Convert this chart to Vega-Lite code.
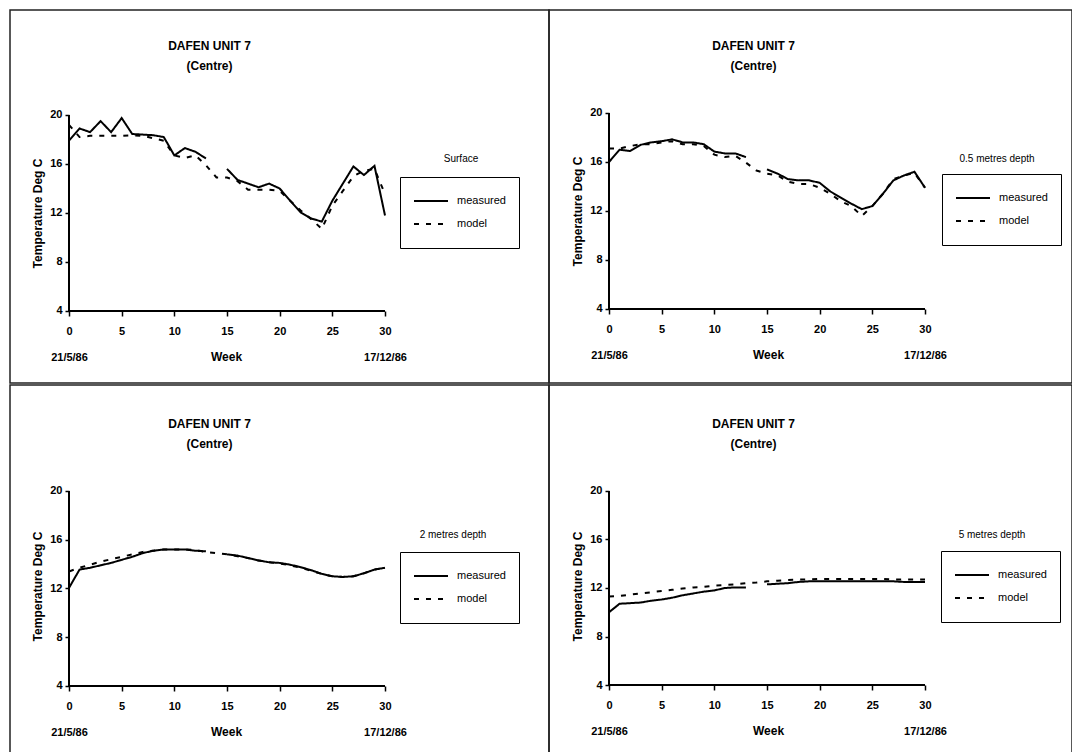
{
  "$schema": "https://vega.github.io/schema/vega-lite/v6.json",
  "padding": {"left": 9, "top": 9, "right": 1, "bottom": 0},
  "background": "white",
  "config": {
    "font": "Liberation Sans",
    "view": {"stroke": "#222", "strokeWidth": 1.5},
    "axis": {"grid": false, "domain": false, "tickColor": "black", "tickWidth": 1.5, "labelColor": "black", "labelFont": "Liberation Sans", "labelFontWeight": "bold", "labelFontSize": 11, "titleColor": "black", "titleFont": "Liberation Sans", "titleFontWeight": "bold", "titleFontSize": 12, "labelOverlap": false, "labelFlush": false},
    "legend": {"orient": "none", "title": null, "strokeColor": "black", "fillColor": "white", "padding": 13, "clipHeight": 22, "rowPadding": 1, "symbolType": "stroke", "symbolSize": 1156, "symbolStrokeWidth": 2, "symbolStrokeColor": "black", "labelFontSize": 11, "labelColor": "black", "labelOffset": 8, "labelFont": "Liberation Sans"},
    "title": {"font": "Liberation Sans", "fontSize": 12, "fontWeight": "bold", "color": "black", "lineHeight": 20, "anchor": "middle", "frame": "group"}
  },
  "datasets": {
    "surface": [
      {"w": 0, "measured": 17.9, "model": 19.2},
      {"w": 1, "measured": 18.9, "model": 18.2},
      {"w": 2, "measured": 18.6, "model": 18.3},
      {"w": 3, "measured": 19.5, "model": 18.3},
      {"w": 4, "measured": 18.6, "model": 18.3},
      {"w": 5, "measured": 19.75, "model": 18.3},
      {"w": 6, "measured": 18.45, "model": 18.35},
      {"w": 7, "measured": 18.4, "model": 18.3},
      {"w": 8, "measured": 18.35, "model": 18.1},
      {"w": 9, "measured": 18.2, "model": 17.9},
      {"w": 10, "measured": 16.7, "model": 16.7},
      {"w": 11, "measured": 17.3, "model": 16.5},
      {"w": 12, "measured": 17.0, "model": 16.7},
      {"w": 13, "measured": 16.45, "model": 15.9},
      {"w": 14, "measured": null, "model": 14.9},
      {"w": 15, "measured": 15.6, "model": 14.9},
      {"w": 16, "measured": 14.7, "model": 14.6},
      {"w": 17, "measured": 14.4, "model": 13.9},
      {"w": 18, "measured": 14.1, "model": 13.9},
      {"w": 19, "measured": 14.4, "model": 13.9},
      {"w": 20, "measured": 14.0, "model": 13.8},
      {"w": 21, "measured": 13.0, "model": 13.0},
      {"w": 22, "measured": 12.05, "model": 12.2},
      {"w": 23, "measured": 11.55, "model": 11.5},
      {"w": 24, "measured": 11.3, "model": 10.7},
      {"w": 25, "measured": 13.0, "model": 12.6},
      {"w": 26, "measured": 14.4, "model": 13.8},
      {"w": 27, "measured": 15.8, "model": 15.0},
      {"w": 28, "measured": 15.1, "model": 15.45},
      {"w": 29, "measured": 15.85, "model": 15.6},
      {"w": 30, "measured": 11.8, "model": 13.55}
    ],
    "d05": [
      {"w": 0, "measured": 16.0, "model": 17.1},
      {"w": 1, "measured": 17.0, "model": 17.1},
      {"w": 2, "measured": 16.9, "model": 17.3},
      {"w": 3, "measured": 17.4, "model": 17.45},
      {"w": 4, "measured": 17.6, "model": 17.45},
      {"w": 5, "measured": 17.7, "model": 17.6},
      {"w": 6, "measured": 17.85, "model": 17.7},
      {"w": 7, "measured": 17.6, "model": 17.45},
      {"w": 8, "measured": 17.6, "model": 17.45},
      {"w": 9, "measured": 17.45, "model": 17.3},
      {"w": 10, "measured": 16.85, "model": 16.6},
      {"w": 11, "measured": 16.7, "model": 16.4},
      {"w": 12, "measured": 16.7, "model": 16.5},
      {"w": 13, "measured": 16.4, "model": 15.95},
      {"w": 14, "measured": null, "model": 15.3},
      {"w": 15, "measured": 15.4, "model": 15.05},
      {"w": 16, "measured": 15.05, "model": 14.9},
      {"w": 17, "measured": 14.6, "model": 14.4},
      {"w": 18, "measured": 14.5, "model": 14.2},
      {"w": 19, "measured": 14.5, "model": 14.2},
      {"w": 20, "measured": 14.3, "model": 13.9},
      {"w": 21, "measured": 13.6, "model": 13.4},
      {"w": 22, "measured": 13.1, "model": 12.8},
      {"w": 23, "measured": 12.6, "model": 12.4},
      {"w": 24, "measured": 12.15, "model": 11.6},
      {"w": 25, "measured": 12.4, "model": 12.4},
      {"w": 26, "measured": 13.4, "model": 13.4},
      {"w": 27, "measured": 14.5, "model": 14.6},
      {"w": 28, "measured": 14.9, "model": 14.9},
      {"w": 29, "measured": 15.2, "model": 15.1},
      {"w": 30, "measured": 13.9, "model": 13.9}
    ],
    "d2": [
      {"w": 0, "measured": 12.05, "model": 13.4},
      {"w": 1, "measured": 13.55, "model": 13.7},
      {"w": 2, "measured": 13.7, "model": 13.95},
      {"w": 3, "measured": 13.9, "model": 14.2},
      {"w": 4, "measured": 14.1, "model": 14.4},
      {"w": 5, "measured": 14.35, "model": 14.6},
      {"w": 6, "measured": 14.6, "model": 14.8},
      {"w": 7, "measured": 14.9, "model": 15.0},
      {"w": 8, "measured": 15.1, "model": 15.1},
      {"w": 9, "measured": 15.2, "model": 15.2},
      {"w": 10, "measured": 15.2, "model": 15.2},
      {"w": 11, "measured": 15.2, "model": 15.2},
      {"w": 12, "measured": 15.1, "model": 15.15},
      {"w": 13, "measured": 15.05, "model": 15.0},
      {"w": 14, "measured": null, "model": 14.9},
      {"w": 15, "measured": 14.8, "model": 14.8},
      {"w": 16, "measured": 14.7, "model": 14.65},
      {"w": 17, "measured": 14.5, "model": 14.5},
      {"w": 18, "measured": 14.3, "model": 14.3},
      {"w": 19, "measured": 14.15, "model": 14.15},
      {"w": 20, "measured": 14.1, "model": 14.05},
      {"w": 21, "measured": 13.95, "model": 13.9},
      {"w": 22, "measured": 13.75, "model": 13.7},
      {"w": 23, "measured": 13.5, "model": 13.45},
      {"w": 24, "measured": 13.2, "model": 13.2},
      {"w": 25, "measured": 13.0, "model": 13.0},
      {"w": 26, "measured": 12.95, "model": 12.95},
      {"w": 27, "measured": 13.0, "model": 13.0},
      {"w": 28, "measured": 13.25, "model": 13.25},
      {"w": 29, "measured": 13.55, "model": 13.55},
      {"w": 30, "measured": 13.7, "model": 13.7}
    ],
    "d5": [
      {"w": 0, "measured": 10.0, "model": 11.3},
      {"w": 1, "measured": 10.7, "model": 11.35},
      {"w": 2, "measured": 10.75, "model": 11.45},
      {"w": 3, "measured": 10.8, "model": 11.55},
      {"w": 4, "measured": 10.95, "model": 11.65},
      {"w": 5, "measured": 11.05, "model": 11.75},
      {"w": 6, "measured": 11.2, "model": 11.85},
      {"w": 7, "measured": 11.4, "model": 11.95},
      {"w": 8, "measured": 11.55, "model": 12.05},
      {"w": 9, "measured": 11.7, "model": 12.1},
      {"w": 10, "measured": 11.8, "model": 12.2},
      {"w": 11, "measured": 12.0, "model": 12.25},
      {"w": 12, "measured": 12.05, "model": 12.3},
      {"w": 13, "measured": 12.05, "model": 12.4},
      {"w": 14, "measured": null, "model": 12.45},
      {"w": 15, "measured": 12.3, "model": 12.55},
      {"w": 16, "measured": 12.35, "model": 12.6},
      {"w": 17, "measured": 12.4, "model": 12.65},
      {"w": 18, "measured": 12.5, "model": 12.7},
      {"w": 19, "measured": 12.55, "model": 12.7},
      {"w": 20, "measured": 12.55, "model": 12.75},
      {"w": 21, "measured": 12.55, "model": 12.75},
      {"w": 22, "measured": 12.55, "model": 12.75},
      {"w": 23, "measured": 12.55, "model": 12.75},
      {"w": 24, "measured": 12.55, "model": 12.75},
      {"w": 25, "measured": 12.55, "model": 12.75},
      {"w": 26, "measured": 12.55, "model": 12.75},
      {"w": 27, "measured": 12.55, "model": 12.7},
      {"w": 28, "measured": 12.5, "model": 12.7},
      {"w": 29, "measured": 12.5, "model": 12.7},
      {"w": 30, "measured": 12.5, "model": 12.7}
    ]
  },
  "spacing": 0,
  "resolve": {"scale": {"x": "independent", "y": "independent", "strokeDash": "independent"}, "legend": {"strokeDash": "independent"}},
  "vconcat": [
    {
      "hconcat": [
        {
          "width": 539, "height": 373,
          "title": {"text": ["DAFEN UNIT 7", "(Centre)"], "dx": -70, "offset": -63},
          "layer": [
            {
              "data": {"name": "surface"},
              "transform": [{"fold": ["measured", "model"], "as": ["series", "temp"]}],
              "mark": {"type": "line", "color": "black", "strokeWidth": 2},
              "encoding": {
                "x": {"field": "w", "type": "quantitative", "scale": {"domain": [-5.601, 45.57], "nice": false, "zero": false},
                  "axis": {"values": [0, 5, 10, 15, 20, 25, 30], "offset": -72, "tickSize": 5, "labelPadding": 9, "labelLineHeight": 26,
                    "labelExpr": "datum.value == 0 ? ['0', '21/5/86'] : datum.value == 30 ? ['30', '17/12/86'] : datum.label",
                    "title": "Week", "titleX": 216, "titleY": 45, "titleBaseline": "middle", "titleAlign": "center"}},
                "y": {"field": "temp", "type": "quantitative", "scale": {"domain": [-1.878, 28.571], "nice": false, "zero": false},
                  "axis": {"values": [4, 8, 12, 16, 20], "offset": -59, "tickSize": 4, "labelPadding": 3,
                    "title": "Temperature Deg C", "titleX": -32, "titleY": 203, "titleAngle": 270, "titleAlign": "center", "titleBaseline": "middle"}},
                "strokeDash": {"field": "series", "type": "nominal", "scale": {"domain": ["measured", "model"], "range": [[1, 0], [5, 7]]},
                  "legend": {"legendX": 390, "legendY": 167}}
              }
            },
            {"data": {"values": [{}]}, "mark": {"type": "rule", "color": "black", "strokeWidth": 2},
              "encoding": {"x": {"datum": 0}, "x2": {"datum": 30}, "y": {"datum": 4}}},
            {"data": {"values": [{}]}, "mark": {"type": "rule", "color": "black", "strokeWidth": 2},
              "encoding": {"x": {"datum": 0}, "y": {"datum": 4}, "y2": {"datum": 20}}},
            {"data": {"values": [{}]}, "mark": {"type": "text", "fontSize": 10, "color": "black", "align": "center", "baseline": "middle"},
              "encoding": {"x": {"datum": 37.22}, "y": {"datum": 16.41}, "text": {"value": "Surface"}}}
          ]
        },
        {
          "width": 523, "height": 373,
          "title": {"text": ["DAFEN UNIT 7", "(Centre)"], "dx": -57, "offset": -63},
          "layer": [
            {
              "data": {"name": "d05"},
              "transform": [{"fold": ["measured", "model"], "as": ["series", "temp"]}],
              "mark": {"type": "line", "color": "black", "strokeWidth": 2},
              "encoding": {
                "x": {"field": "w", "type": "quantitative", "scale": {"domain": [-5.696, 43.956], "nice": false, "zero": false},
                  "axis": {"values": [0, 5, 10, 15, 20, 25, 30], "offset": -74, "tickSize": 5, "labelPadding": 9, "labelLineHeight": 26,
                    "labelExpr": "datum.value == 0 ? ['0', '21/5/86'] : datum.value == 30 ? ['30', '17/12/86'] : datum.label",
                    "title": "Week", "titleX": 219, "titleY": 45, "titleBaseline": "middle", "titleAlign": "center"}},
                "y": {"field": "temp", "type": "quantitative", "scale": {"domain": [-2.041, 28.408], "nice": false, "zero": false},
                  "axis": {"values": [4, 8, 12, 16, 20], "offset": -60, "tickSize": 4, "labelPadding": 3,
                    "title": "Temperature Deg C", "titleX": -32, "titleY": 201, "titleAngle": 270, "titleAlign": "center", "titleBaseline": "middle"}},
                "strokeDash": {"field": "series", "type": "nominal", "scale": {"domain": ["measured", "model"], "range": [[1, 0], [5, 7]]},
                  "legend": {"legendX": 393, "legendY": 164}}
              }
            },
            {"data": {"values": [{}]}, "mark": {"type": "rule", "color": "black", "strokeWidth": 2},
              "encoding": {"x": {"datum": 0}, "x2": {"datum": 30}, "y": {"datum": 4}}},
            {"data": {"values": [{}]}, "mark": {"type": "rule", "color": "black", "strokeWidth": 2},
              "encoding": {"x": {"datum": 0}, "y": {"datum": 4}, "y2": {"datum": 20}}},
            {"data": {"values": [{}]}, "mark": {"type": "text", "fontSize": 10, "color": "black", "align": "center", "baseline": "middle"},
              "encoding": {"x": {"datum": 36.84}, "y": {"datum": 16.24}, "text": {"value": "0.5 metres depth"}}}
          ]
        }
      ],
      "spacing": 0,
      "bounds": "flush",
      "resolve": {"scale": {"x": "independent", "y": "independent", "strokeDash": "independent"}, "legend": {"strokeDash": "independent"}}
    },
    {
      "hconcat": [
        {
          "width": 539, "height": 370,
          "title": {"text": ["DAFEN UNIT 7", "(Centre)"], "dx": -70, "offset": -66},
          "layer": [
            {
              "data": {"name": "d2"},
              "transform": [{"fold": ["measured", "model"], "as": ["series", "temp"]}],
              "mark": {"type": "line", "color": "black", "strokeWidth": 2},
              "encoding": {
                "x": {"field": "w", "type": "quantitative", "scale": {"domain": [-5.601, 45.57], "nice": false, "zero": false},
                  "axis": {"values": [0, 5, 10, 15, 20, 25, 30], "offset": -69, "tickSize": 5, "labelPadding": 9, "labelLineHeight": 26,
                    "labelExpr": "datum.value == 0 ? ['0', '21/5/86'] : datum.value == 30 ? ['30', '17/12/86'] : datum.label",
                    "title": "Week", "titleX": 216, "titleY": 45, "titleBaseline": "middle", "titleAlign": "center"}},
                "y": {"field": "temp", "type": "quantitative", "scale": {"domain": [-1.662, 28.697], "nice": false, "zero": false},
                  "axis": {"values": [4, 8, 12, 16, 20], "offset": -59, "tickSize": 4, "labelPadding": 3,
                    "title": "Temperature Deg C", "titleX": -32, "titleY": 201, "titleAngle": 270, "titleAlign": "center", "titleBaseline": "middle"}},
                "strokeDash": {"field": "series", "type": "nominal", "scale": {"domain": ["measured", "model"], "range": [[1, 0], [5, 7]]},
                  "legend": {"legendX": 390, "legendY": 167}}
              }
            },
            {"data": {"values": [{}]}, "mark": {"type": "rule", "color": "black", "strokeWidth": 2},
              "encoding": {"x": {"datum": 0}, "x2": {"datum": 30}, "y": {"datum": 4}}},
            {"data": {"values": [{}]}, "mark": {"type": "rule", "color": "black", "strokeWidth": 2},
              "encoding": {"x": {"datum": 0}, "y": {"datum": 4}, "y2": {"datum": 20}}},
            {"data": {"values": [{}]}, "mark": {"type": "text", "fontSize": 10, "color": "black", "align": "center", "baseline": "middle"},
              "encoding": {"x": {"datum": 36.46}, "y": {"datum": 16.39}, "text": {"value": "2 metres depth"}}}
          ]
        },
        {
          "width": 523, "height": 370,
          "title": {"text": ["DAFEN UNIT 7", "(Centre)"], "dx": -57, "offset": -66},
          "layer": [
            {
              "data": {"name": "d5"},
              "transform": [{"fold": ["measured", "model"], "as": ["series", "temp"]}],
              "mark": {"type": "line", "color": "black", "strokeWidth": 2},
              "encoding": {
                "x": {"field": "w", "type": "quantitative", "scale": {"domain": [-5.696, 43.956], "nice": false, "zero": false},
                  "axis": {"values": [0, 5, 10, 15, 20, 25, 30], "offset": -70, "tickSize": 5, "labelPadding": 9, "labelLineHeight": 26,
                    "labelExpr": "datum.value == 0 ? ['0', '21/5/86'] : datum.value == 30 ? ['30', '17/12/86'] : datum.label",
                    "title": "Week", "titleX": 219, "titleY": 45, "titleBaseline": "middle", "titleAlign": "center"}},
                "y": {"field": "temp", "type": "quantitative", "scale": {"domain": [-1.773, 28.742], "nice": false, "zero": false},
                  "axis": {"values": [4, 8, 12, 16, 20], "offset": -60, "tickSize": 4, "labelPadding": 3,
                    "title": "Temperature Deg C", "titleX": -32, "titleY": 201, "titleAngle": 270, "titleAlign": "center", "titleBaseline": "middle"}},
                "strokeDash": {"field": "series", "type": "nominal", "scale": {"domain": ["measured", "model"], "range": [[1, 0], [5, 7]]},
                  "legend": {"legendX": 392, "legendY": 166}}
              }
            },
            {"data": {"values": [{}]}, "mark": {"type": "rule", "color": "black", "strokeWidth": 2},
              "encoding": {"x": {"datum": 0}, "x2": {"datum": 30}, "y": {"datum": 4}}},
            {"data": {"values": [{}]}, "mark": {"type": "rule", "color": "black", "strokeWidth": 2},
              "encoding": {"x": {"datum": 0}, "y": {"datum": 4}, "y2": {"datum": 20}}},
            {"data": {"values": [{}]}, "mark": {"type": "text", "fontSize": 10, "color": "black", "align": "center", "baseline": "middle"},
              "encoding": {"x": {"datum": 36.36}, "y": {"datum": 16.37}, "text": {"value": "5 metres depth"}}}
          ]
        }
      ],
      "spacing": 0,
      "bounds": "flush",
      "resolve": {"scale": {"x": "independent", "y": "independent", "strokeDash": "independent"}, "legend": {"strokeDash": "independent"}}
    }
  ]
}
